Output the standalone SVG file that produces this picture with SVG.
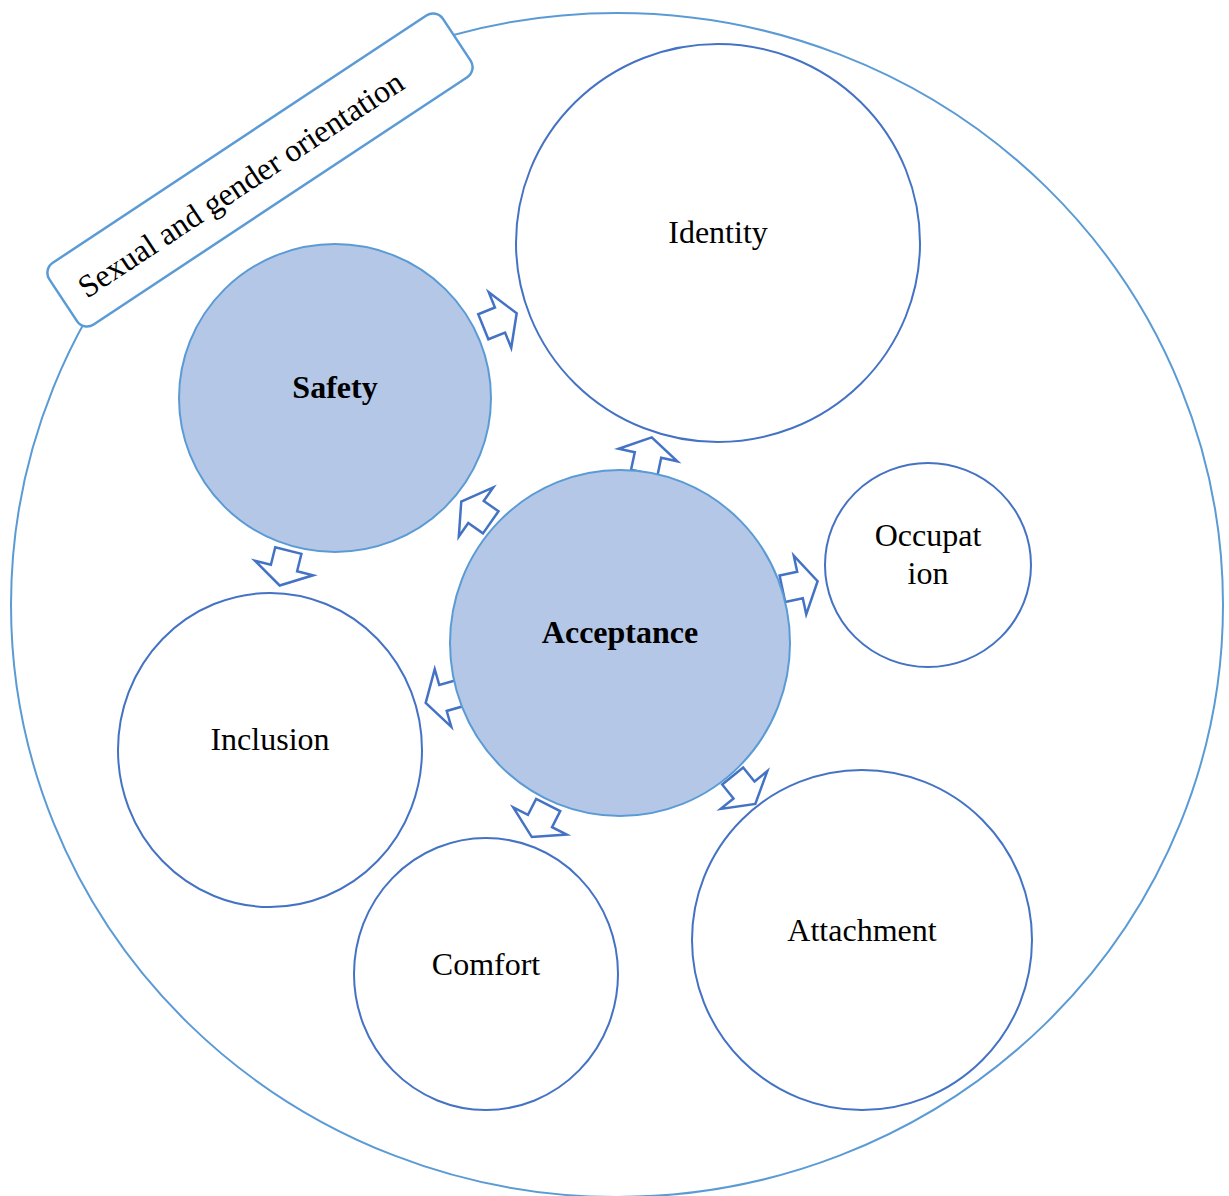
<svg xmlns="http://www.w3.org/2000/svg" width="1229" height="1196" viewBox="0 0 1229 1196">
<style>
.w{fill:#fff;stroke:#4472C4;stroke-width:2}
.f{fill:#B4C7E7;stroke:#5B9BD5;stroke-width:2}
.t{font-family:"Liberation Serif","Times New Roman",serif;font-size:32px;fill:#000;text-anchor:middle}
.b{font-weight:bold}
.ar{fill:#fff;stroke:#4472C4;stroke-width:2.5;stroke-linejoin:miter}
</style>
<defs>
<polygon id="arr" points="-18,-13.5 0,-13.5 0,-30 18,0 0,30 0,13.5 -18,13.5"/>
</defs>
<rect width="1229" height="1196" fill="#fff"/>
<g id="outer"><ellipse cx="617" cy="605" rx="606" ry="592" fill="none" stroke="#5B9BD5" stroke-width="2"/></g>
<g id="identity"><ellipse class="w" cx="718" cy="243" rx="202" ry="199"/><text class="t" x="718" y="243">Identity</text></g>
<g id="occupation"><ellipse class="w" cx="928" cy="565" rx="103" ry="102"/><text class="t" x="928" y="546">Occupat</text><text class="t" x="928" y="584">ion</text></g>
<g id="inclusion"><ellipse class="w" cx="270" cy="750" rx="152" ry="157"/><text class="t" x="270" y="750">Inclusion</text></g>
<g id="comfort"><ellipse class="w" cx="486" cy="974" rx="132" ry="136"/><text class="t" x="486" y="975">Comfort</text></g>
<g id="attachment"><ellipse class="w" cx="862" cy="940" rx="170" ry="170"/><text class="t" x="862" y="941">Attachment</text></g>
<g id="connectors">
<use href="#arr" class="ar" transform="translate(500,320) rotate(-22)"/>
<use href="#arr" class="ar" transform="translate(648,455) rotate(-78)"/>
<use href="#arr" class="ar" transform="translate(476,512) rotate(-145)"/>
<use href="#arr" class="ar" transform="translate(284,568) rotate(104)"/>
<use href="#arr" class="ar" transform="translate(800,585) rotate(-12)"/>
<use href="#arr" class="ar" transform="translate(443,698) rotate(164)"/>
<use href="#arr" class="ar" transform="translate(540,821) rotate(117)"/>
<use href="#arr" class="ar" transform="translate(744,790) rotate(51)"/>
</g>
<g id="safety"><ellipse class="f" cx="335" cy="398" rx="156" ry="154"/><text class="t b" x="335" y="398">Safety</text></g>
<g id="acceptance"><ellipse class="f" cx="620" cy="643" rx="170" ry="173"/><text class="t b" x="620" y="643">Acceptance</text></g>
<g id="label" transform="translate(260,170) rotate(-33.5)">
<rect x="-236" y="-37" width="472" height="74" rx="12" fill="#fff" stroke="#5B9BD5" stroke-width="2.5"/>
<text class="t" x="-24" y="12" style="font-size:32px">Sexual and gender orientation</text>
</g>
</svg>
